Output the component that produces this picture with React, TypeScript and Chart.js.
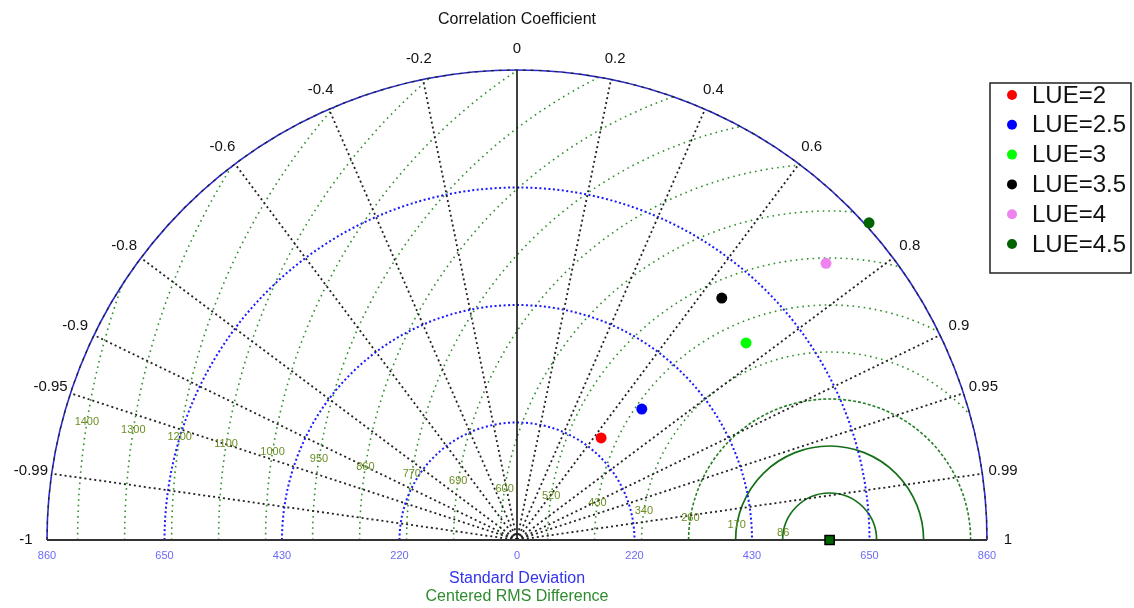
import { useEffect, useRef } from 'react';
import { Chart, registerables } from 'chart.js';

Chart.register(...registerables);

// ---- data ----
const seriesLabels = ['LUE=2', 'LUE=2.5', 'LUE=3', 'LUE=3.5', 'LUE=4', 'LUE=4.5'];
const seriesStd = [242, 331, 553, 580, 759, 867];
const seriesCorr = [0.636, 0.69, 0.758, 0.646, 0.745, 0.743];
const seriesColors = ['#ff0000', '#0000ff', '#00ff00', '#000000', '#ee82ee', '#006400'];

const refStd = 572;
const stdMax = 860;
const stdCircles = [215, 430, 645];
const stdTickValues = [215, 430, 645, 860];
const stdTickLabels = ['220', '430', '650', '860'];

const corrLines = [0.2, 0.4, 0.6, 0.8, 0.9, 0.95, 0.99];
const corrLabelValues = [-1, -0.99, -0.95, -0.9, -0.8, -0.6, -0.4, -0.2, 0, 0.2, 0.4, 0.6, 0.8, 0.9, 0.95, 0.99, 1];

const rmsValues = [86, 172, 258, 344, 430, 516, 602, 688, 774, 860, 946, 1032, 1118, 1204, 1290, 1376];
const rmsLabels = ['86', '170', '260', '340', '430', '520', '600', '690', '770', '860', '950', '1000', '1100', '1200', '1300', '1400'];

const FONT = '"Liberation Sans", Arial, sans-serif';

const taylorPlugin = {
  id: 'taylorGrid',
  beforeDatasetsDraw(chart: any) {
    const { ctx, scales } = chart;
    const xs = scales.x;
    const ys = scales.y;
    const cx = xs.getPixelForValue(0);
    const cy = ys.getPixelForValue(0);
    const k = xs.getPixelForValue(1) - cx;
    const R = stdMax * k;
    const rx = xs.getPixelForValue(refStd);

    ctx.save();
    // RMS circles clipped to the semicircle
    ctx.save();
    ctx.beginPath();
    ctx.arc(cx, cy, R, Math.PI, 2 * Math.PI);
    ctx.closePath();
    ctx.clip();
    rmsValues.forEach((v, i) => {
      ctx.beginPath();
      ctx.arc(rx, cy, v * k, Math.PI, 2 * Math.PI);
      if (i < 2) {
        ctx.setLineDash([]);
        ctx.strokeStyle = '#16701a';
        ctx.lineWidth = 1.7;
      } else if (i === 2) {
        ctx.setLineDash([3, 2]);
        ctx.strokeStyle = '#267f26';
        ctx.lineWidth = 1.6;
      } else {
        ctx.setLineDash([1.6, 4]);
        ctx.strokeStyle = '#2f8f2f';
        ctx.lineWidth = 1.6;
      }
      ctx.stroke();
    });
    ctx.restore();

    // std circles (blue dotted)
    ctx.setLineDash([2, 2.5]);
    ctx.strokeStyle = '#1a1aff';
    ctx.lineWidth = 2;
    stdCircles.forEach((v) => {
      ctx.beginPath();
      ctx.arc(cx, cy, v * k, Math.PI, 2 * Math.PI);
      ctx.stroke();
    });

    // correlation radial lines
    ctx.setLineDash([2, 3]);
    ctx.strokeStyle = '#222';
    ctx.lineWidth = 1.8;
    corrLines.forEach((c) => {
      [c, -c].forEach((cc) => {
        const s = Math.sqrt(1 - cc * cc);
        ctx.beginPath();
        ctx.moveTo(cx, cy);
        ctx.lineTo(xs.getPixelForValue(stdMax * cc), ys.getPixelForValue(stdMax * s));
        ctx.stroke();
      });
    });

    // zero correlation line
    ctx.setLineDash([]);
    ctx.strokeStyle = '#111';
    ctx.lineWidth = 1.6;
    ctx.beginPath();
    ctx.moveTo(cx, cy);
    ctx.lineTo(cx, ys.getPixelForValue(stdMax));
    ctx.stroke();

    // outer arc
    ctx.strokeStyle = '#2b2bd0';
    ctx.lineWidth = 1.6;
    ctx.beginPath();
    ctx.arc(cx, cy, R, Math.PI, 2 * Math.PI);
    ctx.stroke();
    ctx.setLineDash([3, 5]);
    ctx.strokeStyle = '#222';
    ctx.lineWidth = 1.2;
    ctx.beginPath();
    ctx.arc(cx, cy, R, Math.PI, 2 * Math.PI);
    ctx.stroke();
    ctx.setLineDash([]);

    // baseline
    ctx.strokeStyle = '#333';
    ctx.lineWidth = 2;
    ctx.beginPath();
    ctx.moveTo(cx - R, cy);
    ctx.lineTo(cx + R, cy);
    ctx.stroke();

    // correlation labels
    ctx.fillStyle = '#111';
    ctx.font = '15px ' + FONT;
    ctx.textAlign = 'center';
    ctx.textBaseline = 'middle';
    corrLabelValues.forEach((c) => {
      const s = Math.sqrt(Math.max(0, 1 - c * c));
      const rr = R + 21;
      ctx.fillText(String(c), cx + rr * c, cy - rr * s);
    });

    // std tick labels
    ctx.fillStyle = '#6a6af5';
    ctx.font = '11px ' + FONT;
    ctx.fillText('0', cx, cy + 16);
    stdTickValues.forEach((v, i) => {
      ctx.fillText(stdTickLabels[i], xs.getPixelForValue(v), cy + 16);
      ctx.fillText(stdTickLabels[i], xs.getPixelForValue(-v), cy + 16);
    });

    // RMS labels
    ctx.fillStyle = '#6b8e23';
    ctx.font = '11px ' + FONT;
    const ang = (171 * Math.PI) / 180;
    rmsValues.forEach((v, i) => {
      const px = rx + v * k * Math.cos(ang);
      const py = cy - v * k * Math.sin(ang);
      ctx.fillText(rmsLabels[i], px, py);
    });
    ctx.restore();
  },
  afterDraw(chart: any) {
    const { ctx, scales } = chart;
    const cx = scales.x.getPixelForValue(0);
    ctx.save();
    ctx.textAlign = 'center';
    ctx.textBaseline = 'middle';
    ctx.font = '16px ' + FONT;
    ctx.fillStyle = '#111';
    ctx.fillText('Correlation Coefficient', cx, 20);
    ctx.fillStyle = '#3333ee';
    ctx.fillText('Standard Deviation', cx, 579);
    ctx.fillStyle = '#2e8b2e';
    ctx.fillText('Centered RMS Difference', cx, 597);

    // legend
    const bx = 990, by = 83, bw = 141, bh = 190;
    ctx.fillStyle = '#fff';
    ctx.fillRect(bx, by, bw, bh);
    ctx.strokeStyle = '#222';
    ctx.lineWidth = 1.5;
    ctx.strokeRect(bx, by, bw, bh);
    ctx.textAlign = 'left';
    ctx.font = '24px ' + FONT;
    seriesLabels.forEach((lab, i) => {
      const yy = 95 + i * 29.8;
      ctx.fillStyle = seriesColors[i];
      ctx.beginPath();
      ctx.arc(1012, yy, 5, 0, 2 * Math.PI);
      ctx.fill();
      ctx.fillStyle = '#111';
      ctx.fillText(lab, 1032, yy + 1);
    });
    ctx.restore();
  },
};

export default function App() {
  const ref = useRef<HTMLCanvasElement | null>(null);
  useEffect(() => {
    document.body.style.margin = '0';
    if (!ref.current) return;
    const datasets: any[] = seriesLabels.map((lab, i) => ({
      label: lab,
      data: [{ x: seriesStd[i] * seriesCorr[i], y: seriesStd[i] * Math.sqrt(1 - seriesCorr[i] * seriesCorr[i]) }],
      backgroundColor: seriesColors[i],
      borderColor: seriesColors[i],
      pointRadius: 5.5,
      borderWidth: 0,
      clip: false,
    }));
    datasets.push({
      label: 'Reference',
      data: [{ x: refStd, y: 0 }],
      pointStyle: 'rect',
      pointRadius: 6.5,
      backgroundColor: '#006400',
      borderColor: '#000',
      borderWidth: 1.5,
      clip: false,
    });
    const chart = new Chart(ref.current, {
      type: 'scatter',
      data: { datasets },
      options: {
        animation: false,
        responsive: false,
        maintainAspectRatio: false,
        devicePixelRatio: 1,
        layout: { padding: 0, autoPadding: false },
        plugins: { legend: { display: false }, tooltip: { enabled: false } },
        scales: {
          x: { type: 'linear', min: -517 / (470 / 860), max: (1134 - 517) / (470 / 860), display: false },
          y: { type: 'linear', min: -68 / (470 / 860), max: 540 / (470 / 860), display: false },
        },
      },
      plugins: [taylorPlugin],
    });
    return () => chart.destroy();
  }, []);
  return (
    <div style={{ width: 1134, height: 608, background: '#fff' }}>
      <canvas ref={ref} width={1134} height={608} style={{ display: 'block' }} />
    </div>
  );
}
